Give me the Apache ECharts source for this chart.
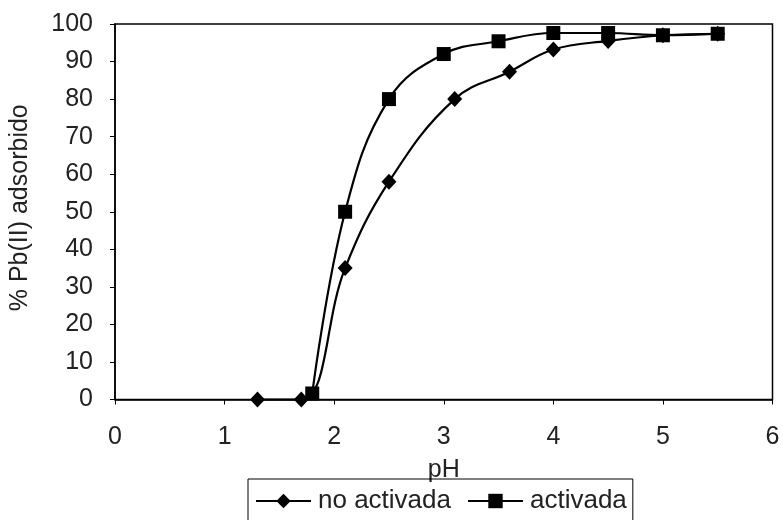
<!DOCTYPE html>
<html><head><meta charset="utf-8">
<script src="https://cdn.jsdelivr.net/npm/echarts@6/dist/echarts.min.js"></script>
<style>html,body{margin:0;padding:0;background:#fff}#c{width:783px;height:520px}</style>
</head><body><div id="c"></div>
<script>
var noActX = [1.3, 1.7, 2.1, 2.5, 3.1, 3.6, 4.0, 4.5, 5.0, 5.5];
var noActY = [0, 0, 35, 58, 80, 87.3, 93.2, 95.5, 97, 97.4];
var actX = [1.8, 2.1, 2.5, 3.0, 3.5, 4.0, 4.5, 5.0, 5.5];
var actY = [1.6, 50, 80, 92, 95.4, 97.6, 97.6, 97, 97.4];
var seriesNames = ['no activada', 'activada'];
var xTitle = 'pH';
var yTitle = '% Pb(II) adsorbido';

function pairs(xs, ys){ return xs.map(function(x,i){ return [x, ys[i]]; }); }
var font = 'Arial, "Liberation Sans", sans-serif';
var chart = echarts.init(document.getElementById('c'), null, {renderer:'canvas'});
chart.setOption({
  animation: false,
  backgroundColor: '#fff',
  grid: {left: 113.5, right: 10.5, top: 24, bottom: 120.5, show: true, borderColor: '#000', borderWidth: 1.5},
  xAxis: {
    type: 'value', min: 0, max: 6, interval: 1,
    name: xTitle, nameLocation: 'middle', nameGap: 58,
    nameTextStyle: {fontFamily: font, fontSize: 25, color: '#222'},
    axisLine: {show: true, lineStyle: {color: '#000', width: 1.5}},
    axisTick: {show: true, length: 5, lineStyle: {color: '#000'}},
    axisLabel: {fontFamily: font, fontSize: 25, color: '#222', margin: 25},
    splitLine: {show: false}
  },
  yAxis: {
    type: 'value', min: 0, max: 100, interval: 10,
    name: yTitle, nameLocation: 'middle', nameGap: 82,
    nameTextStyle: {fontFamily: font, fontSize: 25, color: '#222', padding: [0, 0, 0, 8]},
    axisLine: {show: true, lineStyle: {color: '#000', width: 1.5}},
    axisTick: {show: true, length: 5, lineStyle: {color: '#000'}},
    axisLabel: {fontFamily: font, fontSize: 25, color: '#222', margin: 22},
    splitLine: {show: false}
  },
  legend: {
    left: 248, top: 479,
    padding: [9, 6, 12, 7],
    borderColor: '#000', borderWidth: 1,
    itemWidth: 55, itemHeight: 18, itemGap: 16,
    textStyle: {fontFamily: font, fontSize: 26, color: '#222', padding: [0, 0, 0, 2]},
    data: seriesNames
  },
  series: [
    {name: seriesNames[0], type: 'line', data: pairs(noActX, noActY), smooth: 0.4, clip: false,
     symbol: 'diamond', symbolSize: [15, 16], itemStyle: {color: '#000'},
     lineStyle: {color: '#000', width: 2.2}},
    {name: seriesNames[1], type: 'line', data: pairs(actX, actY), smooth: 0.4, clip: false,
     symbol: 'rect', symbolSize: 14, itemStyle: {color: '#000'},
     lineStyle: {color: '#000', width: 2.2}}
  ]
});
</script></body></html>
